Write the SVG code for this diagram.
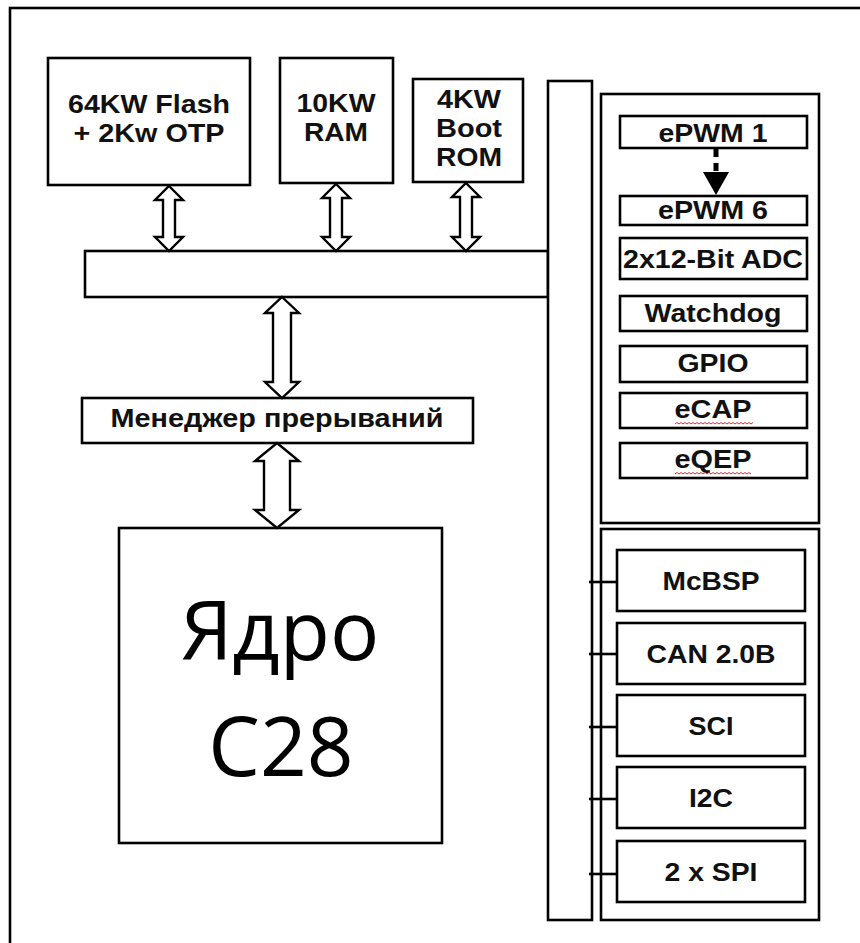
<svg xmlns="http://www.w3.org/2000/svg" width="860" height="943" viewBox="0 0 860 943">
<style>
.box{fill:#fff;stroke:#000;stroke-width:2.6}
.arr{fill:#fff;stroke:#000;stroke-width:2.4;stroke-linejoin:miter}
.t{font-family:"Liberation Sans",Arial,sans-serif;font-weight:bold;font-size:26px;text-anchor:middle;fill:#111}
.big{font-family:"Open Sans","Noto Sans",sans-serif;font-size:82px;text-anchor:middle;fill:#000}
.stub{stroke:#000;stroke-width:2.6}
.sq{fill:none;stroke:#d03030;stroke-width:1}
</style>
<rect width="860" height="943" fill="#fff"/>
<rect id="frame" x="10" y="8" width="870" height="960" fill="none" stroke="#000" stroke-width="2.6"/>

<g id="flash"><rect class="box" x="48" y="58" width="202" height="127"/>
<text class="t" x="149" y="113" textLength="162" lengthAdjust="spacingAndGlyphs">64KW Flash</text>
<text class="t" x="149" y="142" textLength="151" lengthAdjust="spacingAndGlyphs">+ 2Kw OTP</text></g>
<g id="ram"><rect class="box" x="280" y="58" width="113" height="125"/>
<text class="t" x="336" y="112" textLength="79" lengthAdjust="spacingAndGlyphs">10KW</text>
<text class="t" x="336" y="141" textLength="64" lengthAdjust="spacingAndGlyphs">RAM</text></g>
<g id="bootrom"><rect class="box" x="413" y="79" width="110" height="103"/>
<text class="t" x="469" y="108" textLength="64" lengthAdjust="spacingAndGlyphs">4KW</text>
<text class="t" x="469" y="137" textLength="66" lengthAdjust="spacingAndGlyphs">Boot</text>
<text class="t" x="469" y="166" textLength="66" lengthAdjust="spacingAndGlyphs">ROM</text></g>

<g id="hbus"><rect class="box" x="85" y="251" width="463" height="46"/></g>
<g id="vbus"><rect class="box" x="548" y="81" width="44" height="839"/></g>

<g id="intmgr"><rect class="box" x="82" y="398" width="391" height="45"/>
<text class="t" x="277" y="427" font-size="25" textLength="333" lengthAdjust="spacingAndGlyphs">Менеджер прерываний</text></g>

<g id="core"><rect class="box" x="119" y="528" width="323" height="315"/>
<text class="big" x="280" y="660">Ядро</text>
<text class="big" x="281" y="776">C28</text></g>

<g id="panel1"><rect class="box" x="601" y="94" width="218" height="429"/></g>
<g id="panel2"><rect class="box" x="601" y="529" width="218" height="391"/></g>

<g id="epwm1"><rect class="box" x="620" y="116" width="187" height="32"/>
<text class="t" x="713" y="142" textLength="109" lengthAdjust="spacingAndGlyphs">ePWM 1</text></g>
<g id="epwm6"><rect class="box" x="620" y="196" width="187" height="29"/>
<text class="t" x="713" y="219" textLength="110" lengthAdjust="spacingAndGlyphs">ePWM 6</text></g>
<g id="adc"><rect class="box" x="620" y="238" width="187" height="41"/>
<text class="t" x="713" y="268" textLength="180" lengthAdjust="spacingAndGlyphs">2x12-Bit ADC</text></g>
<g id="watchdog"><rect class="box" x="620" y="296" width="187" height="35"/>
<text class="t" x="713" y="322" textLength="137" lengthAdjust="spacingAndGlyphs">Watchdog</text></g>
<g id="gpio"><rect class="box" x="620" y="346" width="187" height="36"/>
<text class="t" x="713" y="372" textLength="71" lengthAdjust="spacingAndGlyphs">GPIO</text></g>
<g id="ecap"><rect class="box" x="620" y="393" width="187" height="35"/>
<text class="t" x="713" y="418" textLength="77" lengthAdjust="spacingAndGlyphs">eCAP</text>
<path class="sq" d="M675 424 l2 -1.5 l2 1.5 l2 -1.5 l2 1.5 l2 -1.5 l2 1.5 l2 -1.5 l2 1.5 l2 -1.5 l2 1.5 l2 -1.5 l2 1.5 l2 -1.5 l2 1.5 l2 -1.5 l2 1.5 l2 -1.5 l2 1.5 l2 -1.5 l2 1.5 l2 -1.5 l2 1.5 l2 -1.5 l2 1.5 l2 -1.5 l2 1.5 l2 -1.5 l2 1.5 l2 -1.5 l2 1.5 l2 -1.5 l2 1.5 l2 -1.5 l2 1.5 l2 -1.5 l2 1.5 l2 -1.5 l2 1.5 l2 -1.5"/></g>
<g id="eqep"><rect class="box" x="620" y="443" width="187" height="35"/>
<text class="t" x="713" y="468" textLength="77" lengthAdjust="spacingAndGlyphs">eQEP</text>
<path class="sq" d="M675 474 l2 -1.5 l2 1.5 l2 -1.5 l2 1.5 l2 -1.5 l2 1.5 l2 -1.5 l2 1.5 l2 -1.5 l2 1.5 l2 -1.5 l2 1.5 l2 -1.5 l2 1.5 l2 -1.5 l2 1.5 l2 -1.5 l2 1.5 l2 -1.5 l2 1.5 l2 -1.5 l2 1.5 l2 -1.5 l2 1.5 l2 -1.5 l2 1.5 l2 -1.5 l2 1.5 l2 -1.5 l2 1.5 l2 -1.5 l2 1.5 l2 -1.5 l2 1.5 l2 -1.5 l2 1.5 l2 -1.5 l2 1.5"/></g>

<g id="mcbsp"><rect class="box" x="617" y="550" width="188" height="61"/>
<text class="t" x="711" y="590" font-size="27" textLength="97" lengthAdjust="spacingAndGlyphs">McBSP</text></g>
<g id="can"><rect class="box" x="617" y="623" width="188" height="61"/>
<text class="t" x="711" y="663" font-size="27" textLength="129" lengthAdjust="spacingAndGlyphs">CAN 2.0B</text></g>
<g id="sci"><rect class="box" x="617" y="695" width="188" height="61"/>
<text class="t" x="711" y="735" font-size="27" textLength="45" lengthAdjust="spacingAndGlyphs">SCI</text></g>
<g id="i2c"><rect class="box" x="617" y="767" width="188" height="61"/>
<text class="t" x="711" y="807" font-size="27" textLength="44" lengthAdjust="spacingAndGlyphs">I2C</text></g>
<g id="spi"><rect class="box" x="617" y="841" width="188" height="61"/>
<text class="t" x="711" y="881" font-size="27" textLength="93" lengthAdjust="spacingAndGlyphs">2 x SPI</text></g>

<g id="connectors">
<path class="arr" d="M169 186 L183 200 L175 200 L175 237 L183 237 L169 251 L155 237 L163 237 L163 200 L155 200 Z"/>
<path class="arr" d="M336 184 L350 198 L342 198 L342 237 L350 237 L336 251 L322 237 L330 237 L330 198 L322 198 Z"/>
<path class="arr" d="M466 183 L480 197 L472 197 L472 237 L480 237 L466 251 L452 237 L460 237 L460 197 L452 197 Z"/>
<path class="arr" d="M282 297 L299 313 L291 313 L291 382 L299 382 L282 398 L265 382 L273 382 L273 313 L265 313 Z"/>
<path class="arr" d="M277 443 L299 461 L290 461 L290 510 L299 510 L277 528 L255 510 L264 510 L264 461 L255 461 Z"/>
<line x1="716" y1="149" x2="716" y2="174" stroke="#000" stroke-width="5" stroke-dasharray="8,6"/>
<path d="M703 172 L729 172 L716 195 Z" fill="#000"/>
<line class="stub" x1="589" y1="582" x2="617" y2="582"/>
<line class="stub" x1="589" y1="654" x2="617" y2="654"/>
<line class="stub" x1="589" y1="727" x2="617" y2="727"/>
<line class="stub" x1="589" y1="799" x2="617" y2="799"/>
<line class="stub" x1="589" y1="874" x2="617" y2="874"/>
</g>
</svg>
